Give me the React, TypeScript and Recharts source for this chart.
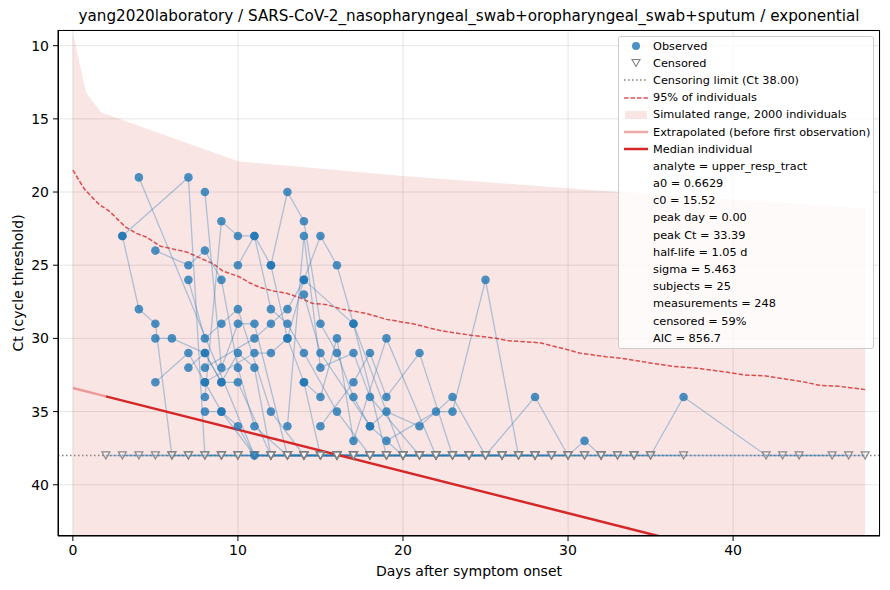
import {
  ComposedChart, XAxis, YAxis, CartesianGrid, Line, Area, Scatter
} from 'recharts'

// simulated range (upper edge, lower edge runs off the axes)
const bandDays = [0, 0.8, 1.7, 10, 20, 33, 48]
const bandTop = [9.1, 13.2, 14.55, 17.9, 18.9, 20.0, 21.1]
const bandBottom = [45, 45, 45, 45, 45, 45, 45]

// 95% of individuals (dashed)
const pct95Days = [0, 0.4, 0.7, 1.2, 1.6, 2.2, 2.7, 3.2, 3.8, 4.5, 5.3, 6.1, 6.9, 7.7, 8.5, 9.1, 10.1, 10.7, 11.3, 12.1, 12.9, 13.7, 14.5, 15.4, 16.3, 17.8, 19.0, 20.6, 22.2, 24.2, 25.7, 26.3, 28.3, 29.9, 30.7, 32.3, 33.5, 35.1, 36.3, 37.9, 39.9, 40.7, 41.9, 44.4, 45.2, 46.4, 48]
const pct95Ct = [18.5, 19.25, 19.8, 20.4, 20.85, 21.3, 21.85, 22.4, 22.8, 23.1, 23.7, 23.9, 24.1, 24.5, 24.9, 25.4, 25.8, 26.2, 26.5, 26.75, 26.9, 27.2, 27.6, 27.7, 28.0, 28.3, 28.7, 29.0, 29.45, 29.8, 30.0, 30.15, 30.3, 30.75, 31.0, 31.25, 31.4, 31.7, 31.9, 32.05, 32.35, 32.5, 32.55, 33.0, 33.2, 33.27, 33.5]

// median individual
const extrapDays = [0, 2]
const extrapCt = [33.39, 33.96]
const medianDays = [2, 48]
const medianCt = [33.96, 47.07]

const censorLimit = 38
const xTicks = [0, 10, 20, 30, 40]
const yTicks = [10, 15, 20, 25, 30, 35, 40]
const xDomain = [-0.9, 48.9]
const yDomain = [8.93, 43.5]

// [day, Ct, censored]
const subjects: [number, number, number][][] = [
  [[3, 23, 0], [7, 19, 0], [8, 38, 1], [9, 38, 1], [10, 38, 1], [11, 38, 1], [12, 38, 1], [13, 38, 1], [14, 38, 1]],
  [[3, 23, 0], [4, 28, 0], [5, 29, 0], [6, 38, 1], [7, 38, 1], [8, 38, 1], [9, 38, 1], [10, 38, 1], [12, 38, 1]],
  [[4, 19, 0], [11, 38, 1], [12, 38, 1], [13, 38, 1], [14, 38, 1], [15, 38, 1], [16, 38, 1]],
  [[5, 24, 0], [7, 25, 0], [8, 24, 0], [9, 26, 0], [10, 32, 0], [11, 36, 0], [13, 38, 1], [14, 38, 1], [15, 38, 1], [16, 38, 1], [17, 38, 1], [18, 38, 1]],
  [[5, 30, 0], [6, 30, 0], [8, 31, 0], [9, 33, 0], [10, 33, 0], [12, 38, 1], [13, 38, 1], [14, 38, 1], [15, 38, 1], [16, 38, 1], [17, 38, 1], [19, 38, 1]],
  [[5, 33, 0], [7, 31, 0], [8, 33, 0], [9, 35, 0], [11, 38, 1], [12, 38, 1], [13, 38, 1], [14, 38, 1], [16, 38, 1], [18, 38, 1], [20, 38, 1]],
  [[7, 26, 0], [8, 30, 0], [9, 29, 0], [10, 28, 0], [12, 35, 0], [14, 38, 1], [15, 38, 1], [16, 38, 1], [17, 38, 1], [18, 38, 1], [19, 38, 1]],
  [[7, 32, 0], [8, 31, 0], [9, 33, 0], [10, 31, 0], [11, 32, 0], [12, 38, 1], [13, 38, 1], [15, 38, 1], [17, 38, 1], [20, 38, 1], [22, 38, 1]],
  [[8, 20, 0], [9, 32, 0], [10, 29, 0], [11, 29, 0], [13, 38, 1], [14, 38, 1], [16, 38, 1], [18, 38, 1], [20, 38, 1]],
  [[8, 35, 0], [9, 35, 0], [10, 36, 0], [11, 38, 0], [12, 38, 1], [13, 38, 1], [14, 38, 1], [16, 38, 1], [19, 38, 1], [21, 38, 1]],
  [[8, 34, 0], [9, 22, 0], [10, 23, 0], [11, 23, 0], [12, 25, 0], [13, 30, 0], [14, 33, 0], [15, 38, 1], [16, 38, 1], [17, 38, 1], [18, 38, 1], [20, 38, 1], [22, 38, 1]],
  [[10, 25, 0], [11, 23, 0], [12, 28, 0], [13, 29, 0], [14, 31, 0], [16, 35, 0], [18, 38, 1], [19, 38, 1], [20, 38, 1], [22, 38, 1], [24, 38, 1]],
  [[12, 25, 0], [13, 20, 0], [14, 22, 0], [15, 29, 0], [16, 31, 0], [17, 34, 0], [18, 36, 0], [20, 38, 1], [21, 38, 1], [22, 38, 1], [23, 38, 1], [24, 38, 1], [26, 38, 1]],
  [[8, 32, 0], [11, 30, 0], [12, 29, 0], [13, 28, 0], [14, 26, 0], [15, 23, 0], [16, 25, 0], [17, 29, 0], [19, 38, 1], [20, 38, 1], [21, 38, 1], [23, 38, 1], [25, 38, 1]],
  [[8, 33, 0], [11, 31, 0], [12, 31, 0], [13, 30, 0], [14, 26, 0], [17, 29, 0], [20, 38, 1], [21, 38, 1], [23, 38, 1], [25, 38, 1], [27, 38, 1]],
  [[13, 36, 0], [14, 23, 0], [15, 32, 0], [17, 31, 0], [18, 34, 0], [21, 38, 1], [22, 38, 1], [24, 38, 1], [26, 38, 1], [28, 38, 1]],
  [[14, 33, 0], [15, 34, 0], [16, 30, 0], [17, 37, 0], [19, 30, 0], [22, 38, 1], [23, 38, 1], [25, 38, 1], [27, 38, 1], [29, 38, 1]],
  [[15, 36, 0], [17, 33, 0], [18, 31, 0], [19, 34, 0], [21, 31, 0], [23, 38, 1], [24, 38, 1], [26, 38, 1], [28, 38, 1], [30, 38, 1]],
  [[14, 27, 0], [15, 31, 0], [18, 36, 0], [19, 35, 0], [21, 36, 0], [23, 34, 0], [25, 38, 1], [26, 38, 1], [27, 38, 1], [29, 38, 1], [31, 38, 1]],
  [[19, 37, 0], [22, 35, 0], [23, 35, 0], [25, 26, 0], [27, 38, 1], [28, 38, 1], [29, 38, 1], [30, 38, 1], [31, 38, 1], [32, 38, 1], [33, 38, 1]],
  [[25, 38, 1], [28, 34, 0], [30, 38, 1], [31, 37, 0], [32, 38, 1], [33, 38, 1], [34, 38, 1], [35, 38, 1]],
  [[35, 38, 1], [37, 34, 0], [42, 38, 1], [44, 38, 1], [47, 38, 1]],
  [[2, 38, 1], [4, 38, 1], [6, 38, 1], [9, 38, 1], [11, 38, 1], [14, 38, 1]],
  [[3, 38, 1], [5, 38, 1], [7, 38, 1], [10, 38, 1], [28, 38, 1], [32, 38, 1], [34, 38, 1], [37, 38, 1]],
  [[20, 38, 1], [24, 38, 1], [26, 38, 1], [28, 38, 1], [30, 38, 1], [32, 38, 1], [34, 38, 1], [43, 38, 1], [46, 38, 1], [48, 38, 1]],
]

const statLines = [
  'analyte = upper_resp_tract',
  'a0 = 0.6629',
  'c0 = 15.52',
  'peak day = 0.00',
  'peak Ct = 33.39',
  'half-life = 1.05 d',
  'sigma = 5.463',
  'subjects = 25',
  'measurements = 248',
  'censored = 59%',
  'AIC = 856.7',
]

const RED = '#d62728'
const BLUE = '#1f77b4'
const FONT = '"DejaVu Sans", sans-serif'

const bandRows = bandDays.map((d, i) => ({ day: d, range: [bandTop[i], bandBottom[i]] }))
const pct95Rows = pct95Days.map((d, i) => ({ day: d, ct: pct95Ct[i] }))
const extrapRows = extrapDays.map((d, i) => ({ day: d, ct: extrapCt[i] }))
const medianRows = medianDays.map((d, i) => ({ day: d, ct: medianCt[i] }))
// censoring limit spans the whole axis, like an axhline
const limitRows = xDomain.map(d => ({ day: d, ct: censorLimit }))
const subjectRows = subjects.map(s => s.map(([day, ct]) => ({ day, ct })))
const observedRows = subjects.flat().filter(p => p[2] === 0).map(([day, ct]) => ({ day, ct }))
const censoredRows = subjects.flat().filter(p => p[2] === 1).map(([day, ct]) => ({ day, ct }))

const Dot = (p: any) => (
  <circle cx={p.cx} cy={p.cy} r={4.3} fill={BLUE} fillOpacity={0.8} />
)
const Tri = (p: any) => (
  <path
    d={`M${p.cx - 4},${p.cy - 3.6}L${p.cx + 4},${p.cy - 3.6}L${p.cx},${p.cy + 3.6}Z`}
    fill="#fff" fillOpacity={0.3} stroke="#808080" strokeOpacity={0.9} strokeWidth={1.2}
  />
)

function LegendBox() {
  const row = { height: 17.19, display: 'flex', alignItems: 'center' }
  const sw = { width: 34, flex: '0 0 34px', display: 'flex', alignItems: 'center', justifyContent: 'center' }
  const items: [string, any][] = [
    ['Observed', <svg width={26} height={10}><circle cx={13} cy={5} r={4} fill={BLUE} fillOpacity={0.8} /></svg>],
    ['Censored', <svg width={26} height={10}><path d="M9,1.5L17,1.5L13,8.5Z" fill="#fff" stroke="#808080" strokeWidth={1.1} /></svg>],
    [`Censoring limit (Ct ${censorLimit.toFixed(2)})`, <svg width={26} height={10}><line x1={1} x2={25} y1={5} y2={5} stroke="#808080" strokeWidth={1.5} strokeDasharray="1.5 2.5" /></svg>],
    ['95% of individuals', <svg width={26} height={10}><line x1={1} x2={25} y1={5} y2={5} stroke={RED} strokeOpacity={0.8} strokeWidth={1.5} strokeDasharray="4.5 2" /></svg>],
    ['Simulated range, 2000 individuals', <svg width={26} height={10}><rect x={2} y={1} width={22} height={8} fill={RED} fillOpacity={0.12} /></svg>],
    ['Extrapolated (before first observation)', <svg width={26} height={10}><line x1={1} x2={25} y1={5} y2={5} stroke={RED} strokeOpacity={0.4} strokeWidth={2.5} /></svg>],
    ['Median individual', <svg width={26} height={10}><line x1={1} x2={25} y1={5} y2={5} stroke={RED} strokeWidth={2.5} /></svg>],
    ...statLines.map(t => [t, null] as [string, null]),
  ]
  return (
    <div style={{
      position: 'absolute', left: 618, top: 36, width: 256, height: 313, boxSizing: 'border-box',
      background: 'rgba(255,255,255,0.8)', border: '1px solid #cccccc', borderRadius: 3,
      fontFamily: FONT, fontSize: 11.3, color: '#000', paddingTop: 0.5,
    }}>
      {items.map(([t, m], i) => (
        <div key={i} style={row}>
          <div style={sw}>{m}</div>
          <div style={{ whiteSpace: 'nowrap' }}>{t}</div>
        </div>
      ))}
    </div>
  )
}

export default function App() {
  const tick = { fill: '#000', fontSize: 14, fontFamily: FONT }
  return (
    <div style={{ position: 'relative', width: 890, height: 590, background: '#fff' }}>
      <style>{'body{margin:0}'}</style>
      <ComposedChart width={890} height={590} margin={{ top: 30, right: 10, bottom: 0, left: 0 }}>
        <CartesianGrid stroke="#b0b0b0" strokeOpacity={0.4} strokeWidth={0.8} />
        <XAxis
          dataKey="day" type="number" domain={xDomain} allowDataOverflow ticks={xTicks}
          height={54} tickSize={5} tickMargin={4} stroke="#000" tick={tick}
        />
        <YAxis
          dataKey="ct" type="number" domain={yDomain} allowDataOverflow reversed ticks={yTicks}
          width={58} tickSize={5} tickMargin={4} stroke="#000" tick={tick}
        />
        <Area data={bandRows} dataKey="range" type="linear" fill={RED} fillOpacity={0.12} stroke="none" isAnimationActive={false} />
        <Line data={limitRows} dataKey="ct" type="linear" stroke="#808080" strokeWidth={1.5} strokeDasharray="1.5 2.5" dot={false} activeDot={false} isAnimationActive={false} />
        <Line data={pct95Rows} dataKey="ct" type="linear" stroke={RED} strokeOpacity={0.8} strokeWidth={1.5} strokeDasharray="4.5 2" dot={false} activeDot={false} isAnimationActive={false} />
        {subjectRows.map((rows, i) => (
          <Line key={i} data={rows} dataKey="ct" type="linear" stroke={BLUE} strokeOpacity={0.35} strokeWidth={1.3} dot={false} activeDot={false} isAnimationActive={false} />
        ))}
        <Line data={extrapRows} dataKey="ct" type="linear" stroke={RED} strokeOpacity={0.4} strokeWidth={2.5} dot={false} activeDot={false} isAnimationActive={false} />
        <Line data={medianRows} dataKey="ct" type="linear" stroke={RED} strokeWidth={2.5} dot={false} activeDot={false} isAnimationActive={false} />
        <Scatter data={censoredRows} shape={Tri} isAnimationActive={false} />
        <Scatter data={observedRows} shape={Dot} isAnimationActive={false} />
      </ComposedChart>
      {/* axes frame */}
      <div style={{ position: 'absolute', left: 58, top: 30, width: 822, height: 506, boxSizing: 'border-box', border: '1.1px solid #000', pointerEvents: 'none' }} />
      <div style={{ position: 'absolute', left: 0, width: 938, top: 7, textAlign: 'center', fontFamily: FONT, fontSize: 15.2, whiteSpace: 'nowrap' }}>
        yang2020laboratory / SARS-CoV-2_nasopharyngeal_swab+oropharyngeal_swab+sputum / exponential
      </div>
      <div style={{ position: 'absolute', left: 0, width: 938, top: 563, textAlign: 'center', fontFamily: FONT, fontSize: 14 }}>
        Days after symptom onset
      </div>
      <div style={{ position: 'absolute', left: 18, top: 283, transform: 'translate(-50%, -50%) rotate(-90deg)', fontFamily: FONT, fontSize: 14, whiteSpace: 'nowrap' }}>
        Ct (cycle threshold)
      </div>
      <LegendBox />
    </div>
  )
}
